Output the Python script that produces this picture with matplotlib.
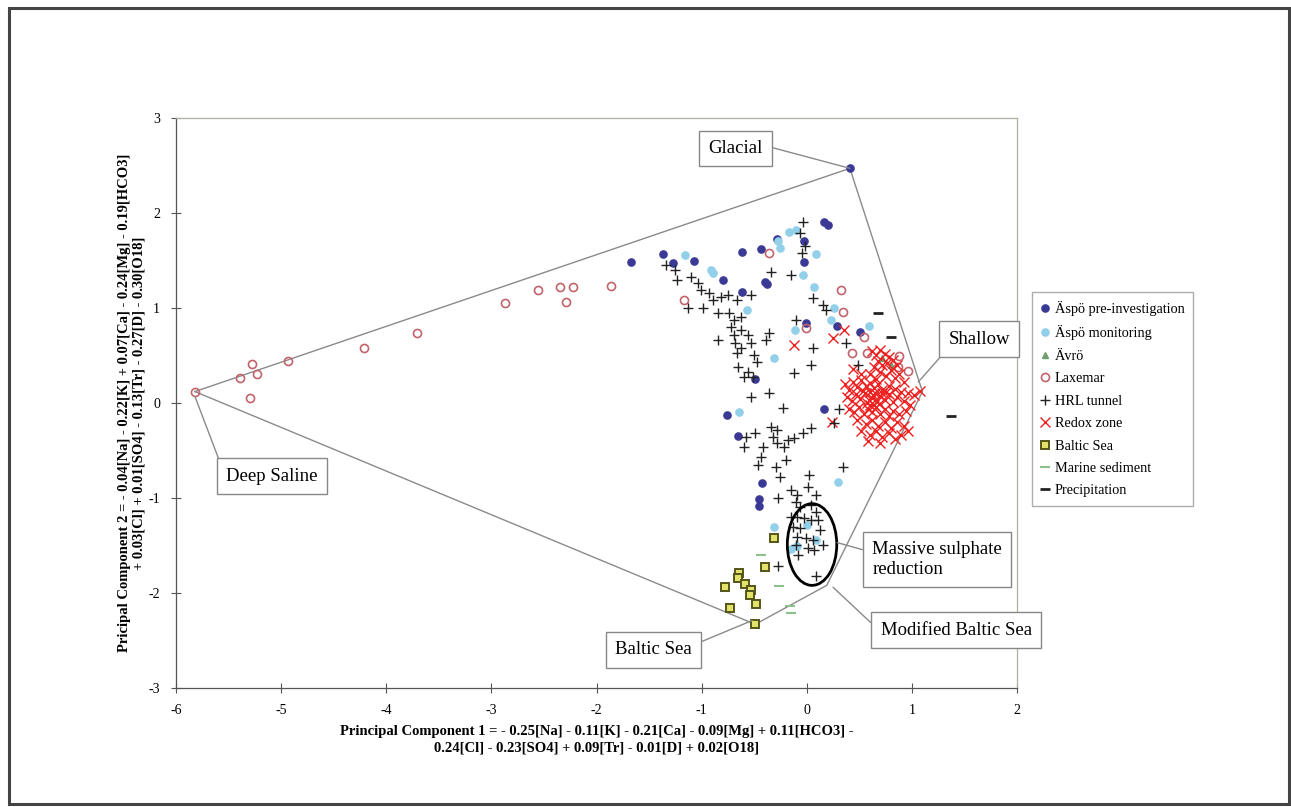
import matplotlib
matplotlib.use("Agg")
import matplotlib.pyplot as plt
from matplotlib.patches import Ellipse, Rectangle

plt.rcParams['font.family'] = ['Liberation Serif', 'DejaVu Serif']

# ---------------- data ----------------
aspo_pre_x = [0.41, -1.67, -1.37, -1.27, -1.07, -0.80, -0.62, -0.44, -0.40, -0.38, -0.62, -0.03, -0.03,
              0.16, 0.20, -0.01, 0.29, 0.51, -0.76, -0.65, -0.49, 0.16, -0.43, -0.45, -0.45, -0.28]
aspo_pre_y = [2.47, 1.48, 1.57, 1.47, 1.49, 1.29, 1.59, 1.62, 1.27, 1.25, 1.17, 1.71, 1.48,
              1.91, 1.87, 0.84, 0.81, 0.75, -0.13, -0.35, 0.25, -0.06, -0.84, -1.01, -1.08, 1.73]

aspo_mon_x = [-1.16, -0.91, -0.89, -0.27, -0.25, -0.17, -0.10, 0.09, -0.04, 0.07, 0.26, 0.23, 0.59,
              -0.11, -0.31, -0.64, -0.57, 0.30, -0.31, -0.15, -0.09, 0.09, 0.00]
aspo_mon_y = [1.56, 1.40, 1.37, 1.71, 1.63, 1.80, 1.82, 1.57, 1.35, 1.22, 1.00, 0.87, 0.81,
              0.77, 0.47, -0.09, 0.98, -0.83, -1.31, -1.54, -1.51, -1.44, -1.28]

avro_x = [0.72, 0.80]
avro_y = [0.47, 0.40]

laxemar_x = [-5.82, -5.39, -5.28, -5.23, -5.30, -4.93, -4.21, -3.71, -2.87, -2.56, -2.35, -2.22, -2.29,
             -1.86, -1.17, -0.36, 0.33, 0.34, -0.01, 0.54, 0.43, 0.57, 0.88, 0.96, 0.87]
laxemar_y = [0.12, 0.26, 0.41, 0.31, 0.05, 0.44, 0.58, 0.74, 1.05, 1.19, 1.22, 1.22, 1.06,
             1.23, 1.08, 1.58, 1.19, 0.96, 0.79, 0.69, 0.53, 0.53, 0.49, 0.34, 0.38]

hrl_x = [-1.34, -1.25, -1.23, -1.10, -1.03, -1.01, -0.93, -0.89, -0.82, -0.75, -0.99, -1.13, -0.84, -0.74,
         -0.66, -0.53, -0.69, -0.63, -0.72, -0.63, -0.56, -0.69, -0.84, -0.68, -0.63, -0.53, -0.39, -0.36,
         -0.66, -0.50, -0.47, -0.65, -0.56, -0.60, -0.51, -0.36, -0.53, -0.23, -0.58, -0.49, -0.34, -0.28,
         -0.32, -0.28, -0.22, -0.18, -0.12, -0.04, 0.04, -0.42, -0.60, -0.44, -0.20, 0.34, -0.46,
         -0.04, -0.06, -0.15, -0.34, 0.06, 0.15, 0.18, -0.10, 0.06, 0.04, -0.12, 0.31, 0.26, 0.49, 0.37,
         -0.02, -0.05,
         -0.29, -0.25, 0.02, -0.27, -0.15, -0.09, 0.01, 0.09, -0.10, -0.06, 0.04, 0.09, -0.15, -0.09,
         -0.03, 0.04, 0.11, -0.13, -0.06, 0.13, -0.09, -0.01, 0.06, 0.15, -0.10, 0.07, 0.01, -0.08,
         -0.27, 0.09]
hrl_y = [1.45, 1.40, 1.29, 1.33, 1.26, 1.19, 1.16, 1.08, 1.12, 1.14, 1.00, 1.00, 0.95, 0.95,
         1.08, 1.14, 0.87, 0.91, 0.80, 0.77, 0.72, 0.72, 0.66, 0.63, 0.58, 0.63, 0.66, 0.74,
         0.53, 0.51, 0.43, 0.38, 0.33, 0.27, 0.27, 0.11, 0.06, -0.05, -0.36, -0.32, -0.25, -0.28,
         -0.36, -0.42, -0.46, -0.39, -0.37, -0.32, -0.26, -0.46, -0.46, -0.57, -0.60, -0.67, -0.65,
         1.91, 1.79, 1.35, 1.38, 1.11, 1.03, 0.98, 0.87, 0.58, 0.40, 0.32, -0.06, -0.21, 0.40, 0.63,
         1.65, 1.58,
         -0.67, -0.78, -0.76, -1.00, -0.92, -0.97, -0.88, -0.97, -1.04, -1.09, -1.07, -1.15, -1.20, -1.20,
         -1.21, -1.23, -1.23, -1.31, -1.32, -1.34, -1.41, -1.42, -1.44, -1.49, -1.49, -1.55, -1.53, -1.60,
         -1.72, -1.82]

redox_x = [0.62, 0.66, 0.70, 0.74, 0.78, 0.68, 0.72, 0.76, 0.82, 0.86, 0.64, 0.70, 0.80, 0.88, 0.60,
           0.75, 0.84, 0.66, 0.92,
           0.36, 0.40, 0.44, 0.48, 0.52, 0.56, 0.60, 0.64, 0.68, 0.72, 0.78, 0.84, 0.90, 0.96, 1.02, 1.08,
           0.38, 0.43, 0.47, 0.51, 0.55, 0.59, 0.63, 0.67, 0.70, 0.74, 0.78, 0.82, 0.86, 0.92, 0.98,
           0.40, 0.45, 0.50, 0.54, 0.58, 0.62, 0.66, 0.70, 0.74, 0.78, 0.82, 0.88, 0.94,
           0.48, 0.56, 0.62, 0.68, 0.74, 0.80, 0.86, 0.92,
           0.52, 0.60, 0.66, 0.72, 0.78, 0.84, 0.90, 0.96, 0.58, 0.70,
           0.60, 0.62, 0.65, 0.57, 0.53, 0.69, 0.72, 0.64, 0.75, 0.60,
           -0.12, 0.25, 0.35, 0.24, 0.44, 0.52]
redox_y = [0.55, 0.50, 0.56, 0.52, 0.48, 0.44, 0.40, 0.42, 0.45, 0.40, 0.38, 0.33, 0.35, 0.30, 0.30,
           0.28, 0.26, 0.25, 0.22,
           0.20, 0.14, 0.22, 0.17, 0.24, 0.18, 0.21, 0.16, 0.20, 0.14, 0.18, 0.15, 0.12, 0.10, 0.08, 0.13,
           0.06, 0.02, 0.09, 0.04, 0.10, 0.03, 0.08, 0.02, 0.07, 0.03, 0.09, 0.01, 0.06, 0.02, -0.02,
           -0.06, -0.10, -0.04, -0.12, -0.06, -0.10, -0.04, -0.12, -0.06, -0.14, -0.08, -0.12, -0.08,
           -0.18, -0.22, -0.18, -0.24, -0.20, -0.26, -0.20, -0.24,
           -0.30, -0.34, -0.30, -0.36, -0.32, -0.38, -0.34, -0.30, -0.40, -0.42,
           0.12, 0.05, 0.11, 0.00, 0.13, -0.01, 0.10, -0.02, 0.12, -0.02,
           0.61, 0.68, 0.77, -0.20, 0.36, 0.30]

baltic_x = [-0.31, -0.40, -0.64, -0.65, -0.59, -0.53, -0.54, -0.48, -0.78, -0.73, -0.49]
baltic_y = [-1.42, -1.73, -1.79, -1.84, -1.91, -1.97, -2.02, -2.12, -1.94, -2.16, -2.33]

marine_x = [-0.44, -0.26, -0.16, -0.15]
marine_y = [-1.60, -1.93, -2.14, -2.21]

precip_x = [0.68, 0.80, 1.37]
precip_y = [0.95, 0.69, -0.14]

# end-member polygon: Deep Saline, Glacial, Shallow, Modified Baltic Sea, Baltic Sea
em_names = ['Deep Saline', 'Glacial', 'Shallow', 'Modified Baltic Sea', 'Baltic Sea']
em_x = [-5.82, 0.41, 1.10, 0.19, -0.49]
em_y = [0.12, 2.47, 0.12, -1.92, -2.33]

xticks = [-6, -5, -4, -3, -2, -1, 0, 1, 2]
yticks = [-3, -2, -1, 0, 1, 2, 3]

xlabel = ("Principal Component 1 = - 0.25[Na] - 0.11[K] - 0.21[Ca] - 0.09[Mg] + 0.11[HCO3] -\n"
          "0.24[Cl] - 0.23[SO4] + 0.09[Tr] - 0.01[D] + 0.02[O18]")
ylabel = ("Pricipal Component 2 = - 0.04[Na] - 0.22[K] + 0.07[Ca] - 0.24[Mg] - 0.19[HCO3]\n"
          "+ 0.03[Cl] + 0.01[SO4] - 0.13[Tr] - 0.27[D] - 0.30[O18]")

# ---------------- figure ----------------
fig = plt.figure(figsize=(12.91, 8.07), dpi=100)
fig.patch.set_facecolor('white')
ax = fig.add_axes([0.1363, 0.1475, 0.6515, 0.7063])

# outer frame
fig.patches.append(Rectangle((9 / 1291, 1 - 804 / 807), (1289 - 9) / 1291, (804 - 8) / 807,
                             transform=fig.transFigure, fill=False, lw=2.2, ec='#444444'))

# polygon lines
poly_x = em_x + [em_x[0]]
poly_y = em_y + [em_y[0]]
ax.plot(poly_x, poly_y, color='#8a8a8a', lw=1.0, zorder=1)

ms = 5.2
ax.plot(aspo_pre_x, aspo_pre_y, 'o', color='#3a3a96', ms=ms, ls='none', label='Äspö pre-investigation', zorder=3)
ax.plot(aspo_mon_x, aspo_mon_y, 'o', color='#92d0ea', ms=ms, ls='none', label='Äspö monitoring', zorder=3)
ax.plot(avro_x, avro_y, '^', color='#6f9f6f', ms=4, ls='none', label='Ävrö', zorder=3)
ax.plot(laxemar_x, laxemar_y, 'o', mfc='none', mec='#c2646c', mew=1.2, ms=5.8, ls='none', label='Laxemar', zorder=3)
ax.plot(hrl_x, hrl_y, '+', color='#222222', ms=7, mew=1.0, ls='none', label='HRL tunnel', zorder=4)
ax.plot(redox_x, redox_y, 'x', color='#ee2020', ms=6.5, mew=1.0, ls='none', label='Redox zone', zorder=3)
ax.plot(baltic_x, baltic_y, 's', mfc='#e2e26a', mec='#55551a', mew=1.4, ms=5.5, ls='none', label='Baltic Sea', zorder=3)
ax.plot(marine_x, marine_y, '_', color='#8cc08c', ms=7, mew=1.5, ls='none', label='Marine sediment', zorder=3)
ax.plot(precip_x, precip_y, '_', color='#222222', ms=7, mew=2.0, ls='none', label='Precipitation', zorder=3)

# ellipse for massive sulphate reduction
ell_center = (0.05, -1.49)
ell_w, ell_h = 0.47, 0.86
ax.add_patch(Ellipse(ell_center, ell_w, ell_h, fill=False, ec='black', lw=2.0, zorder=5))

ax.set_xlim(-6, 2)
ax.set_ylim(-3, 3)
ax.set_xticks(xticks)
ax.set_yticks(yticks)
ax.set_xticklabels([str(t) for t in xticks])
ax.set_yticklabels([str(t) for t in yticks])
ax.tick_params(direction='inout', length=7, width=0.8, color='#555555', labelsize=10, pad=8)
for s in ['top', 'right']:
    ax.spines[s].set_color('#b0b0a0')
    ax.spines[s].set_linewidth(0.9)
for s in ['left', 'bottom']:
    ax.spines[s].set_color('#555555')
    ax.spines[s].set_linewidth(0.9)

ax.set_xlabel(xlabel, fontsize=10.5, fontweight='bold', labelpad=6, linespacing=1.35)
ax.set_ylabel(ylabel, fontsize=10.5, fontweight='bold', labelpad=2, linespacing=1.2)

# annotation boxes
box = dict(boxstyle='square,pad=0.5', fc='white', ec='#888888', lw=1.0)
arrow = dict(arrowstyle='-', color='#8a8a8a', lw=1.0, shrinkA=0, shrinkB=0)


def label(text, xy, xytext, relpos, **kw):
    ap = dict(arrow)
    ap['relpos'] = relpos
    ax.annotate(text, xy=xy, xytext=xytext, textcoords='data', ha='center', va='center',
                fontsize=13.5, bbox=box, arrowprops=ap, annotation_clip=False, zorder=6, **kw)


label('Glacial', (em_x[1], em_y[1]), (-0.68, 2.68), (1.0, 0.7))
label('Shallow', (em_x[2] - 0.04, em_y[2] + 0.1), (1.64, 0.67), (0.0, 0.0))
label('Deep Saline', (em_x[0], em_y[0] - 0.05), (-5.09, -0.77), (0.0, 0.4))
label('Massive sulphate\nreduction', (0.29, -1.47), (1.24, -1.65), (0.0, 0.7), multialignment='left')
label('Modified Baltic Sea', (em_x[3] + 0.06, em_y[3] - 0.02), (1.42, -2.39), (0.0, 0.4))
label('Baltic Sea', (em_x[4] - 0.03, em_y[4] + 0.04), (-1.46, -2.60), (1.0, 0.75))

leg = ax.legend(loc='upper left', bbox_to_anchor=(1032 / 1291, 1 - 292 / 807), bbox_transform=fig.transFigure,
                borderaxespad=0, fontsize=10.3, frameon=True, fancybox=False, edgecolor='#999999',
                handlelength=0.6, handletextpad=0.4, labelspacing=0.66, borderpad=0.6, numpoints=1)
leg.get_frame().set_linewidth(1.0)

fig.savefig('out.png', dpi=100, facecolor='white')
